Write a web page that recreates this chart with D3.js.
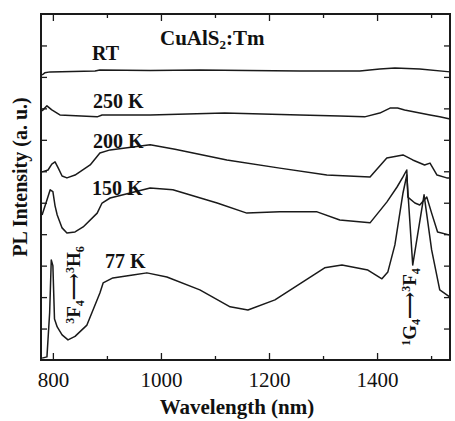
<!DOCTYPE html>
<html lang="en">
<head>
<meta charset="UTF-8">
<title>CuAlS2:Tm PL</title>
<script src="https://cdn.jsdelivr.net/npm/d3@7"></script>
<style>
  html, body { margin: 0; padding: 0; background: #fff; overflow: hidden; }
  svg { display: block; }
  svg text { font-family: "Liberation Serif", "DejaVu Serif", serif; fill: #111; }
</style>
</head>
<body>
<div class="marco"></div>
<script>
// wavelength (nm), intensity (a.u., offset per curve)
var curveRT = [[780,9.06],[785,9.13],[795,9.16],[878,9.19],[887,9.22],[980,9.2],[1072,9.22],[1160,9.2],[1257,9.19],[1368,9.19],[1405,9.25],[1433,9.28],[1479,9.25],[1535,9.16]];
var curve250 = [[780,7.92],[789,8.08],[798,7.95],[813,7.79],[882,7.73],[891,7.79],[980,7.79],[1118,7.85],[1257,7.79],[1331,7.76],[1377,7.73],[1405,7.85],[1424,8.01],[1438,8.01],[1451,7.95],[1498,7.79],[1516,7.73],[1535,7.66]];
var curve200 = [[780,5.98],[791,6.04],[798,6.23],[804,6.30],[810,6.10],[817,5.85],[826,5.79],[841,5.88],[869,6.2],[887,6.58],[906,6.68],[948,6.77],[980,6.84],[1026,6.7],[1122,6.36],[1220,6.1],[1307,5.88],[1387,5.82],[1418,6.42],[1448,6.52],[1466,6.36],[1488,6.20],[1498,6.26],[1511,5.88],[1529,5.79],[1535,5.79]];
var curve150 = [[780,4.61],[789,5.09],[795,5.41],[800,5.35],[804,4.9],[808,4.61],[817,4.20],[826,4.04],[841,4.07],[856,4.23],[882,4.67],[891,4.99],[906,5.15],[943,5.31],[980,5.47],[1022,5.41],[1104,4.99],[1159,4.67],[1220,4.71],[1289,4.71],[1331,4.45],[1387,4.36],[1418,5.02],[1437,5.5],[1448,5.82],[1455,6.04],[1457,5.18],[1470,4.99],[1479,4.93],[1492,5.18],[1501,4.67],[1512,4.07],[1535,3.97]];
var curve77 = [[780,0.06],[789,0.1],[794,1.5],[797,3.18],[800,3.0],[803,1.3],[808,1.05],[817,0.8],[828,0.64],[841,0.75],[863,1.11],[887,2.13],[893,2.45],[911,2.61],[948,2.70],[974,2.77],[1011,2.64],[1072,2.23],[1128,1.69],[1161,1.59],[1211,1.91],[1303,2.93],[1335,3.02],[1383,2.86],[1409,2.58],[1420,2.80],[1433,3.66],[1448,5.31],[1455,5.88],[1466,3.02],[1487,5.25],[1501,3.50],[1516,2.23],[1535,2.00]];

var series = [curveRT, curve250, curve200, curve150, curve77];
var xMajor = [800, 1000, 1200, 1400],
    xMinor = [900, 1100, 1300, 1500],
    yTicks = [1, 2, 3, 4, 5, 6, 7, 8, 9, 10];

var width = 455, height = 421,
    margin = { top: 14, right: 5, bottom: 61, left: 41 },
    innerWidth = width - margin.left - margin.right,
    innerHeight = height - margin.top - margin.bottom,
    ink = "#1a1a1a";

var svg = d3.select(".marco").append("svg")
    .attr("width", width)
    .attr("height", height);

var g = svg.append("g")
    .attr("transform", `translate(${margin.left}, ${margin.top})`);

var x = d3.scaleLinear().domain([778, 1535]).range([0, innerWidth]),
    y = d3.scaleLinear().domain([0, 11]).range([innerHeight, 0]);

// ejes (ticks hacia dentro)
var bottom = g.append("g")
    .attr("transform", `translate(0, ${innerHeight})`)
    .call(d3.axisBottom(x).tickValues(xMajor).tickSizeInner(-7).tickSizeOuter(0).tickPadding(12).tickFormat(d3.format("d")));
g.append("g")
    .attr("transform", `translate(0, ${innerHeight})`)
    .call(d3.axisBottom(x).tickValues(xMinor).tickSizeInner(-4).tickSizeOuter(0).tickFormat(""));
g.append("g")
    .call(d3.axisTop(x).tickValues(xMajor).tickSizeInner(-7).tickSizeOuter(0).tickFormat(""));
g.append("g")
    .call(d3.axisTop(x).tickValues(xMinor).tickSizeInner(-4).tickSizeOuter(0).tickFormat(""));
g.append("g")
    .call(d3.axisLeft(y).tickValues(yTicks).tickSizeInner(-6).tickSizeOuter(0).tickFormat(""));
g.append("g")
    .attr("transform", `translate(${innerWidth}, 0)`)
    .call(d3.axisRight(y).tickValues(yTicks).tickSizeInner(-6).tickSizeOuter(0).tickFormat(""));

g.selectAll(".domain").remove();
g.selectAll(".tick line").attr("stroke", ink).attr("stroke-width", 1.3);
bottom.selectAll("text")
    .attr("font-size", 21)
    .attr("fill", "#111")
    .style("font-family", "'Liberation Serif', serif");

g.append("rect")
    .attr("width", innerWidth)
    .attr("height", innerHeight)
    .attr("fill", "none")
    .attr("stroke", ink)
    .attr("stroke-width", 2);

// curvas
var line = d3.line().x(d => x(d[0])).y(d => y(d[1]));
g.selectAll("path.curva")
    .data(series)
    .enter().append("path")
    .attr("class", "curva")
    .attr("d", line)
    .attr("fill", "none")
    .attr("stroke", ink)
    .attr("stroke-width", 1.5)
    .attr("stroke-linejoin", "round");

// etiquetas
var etiquetas = [
    { t: "RT", x: 92, y: 60 },
    { t: "250 K", x: 93, y: 108 },
    { t: "200 K", x: 93, y: 148 },
    { t: "150 K", x: 92, y: 195 },
    { t: "77 K", x: 105, y: 268 }
];
svg.selectAll("text.temp")
    .data(etiquetas)
    .enter().append("text")
    .attr("class", "temp")
    .attr("x", d => d.x)
    .attr("y", d => d.y)
    .attr("font-size", 20)
    .attr("font-weight", "bold")
    .text(d => d.t);

var titulo = svg.append("text")
    .attr("x", 160).attr("y", 45)
    .attr("font-size", 21)
    .attr("font-weight", "bold");
titulo.append("tspan").text("CuAlS");
titulo.append("tspan").attr("font-size", 13).attr("dy", 4).text("2");
titulo.append("tspan").attr("dy", -4).text(":Tm");

function rotada(cx, cy, partes) {
    var t = svg.append("text")
        .attr("transform", `translate(${cx}, ${cy}) rotate(-90)`)
        .attr("text-anchor", "middle")
        .attr("font-size", 19)
        .attr("font-weight", "bold");
    partes.forEach(p => {
        t.append("tspan")
            .attr("font-size", p.s || 19)
            .attr("dy", p.dy || 0)
            .text(p.t);
    });
}
rotada(80, 285, [{ t: "3", s: 12, dy: -6 }, { t: "F", dy: 6 }, { t: "4", s: 12, dy: 4 }, { t: "\u27F6", dy: -4 }, { t: "3", s: 12, dy: -6 }, { t: "H", dy: 6 }, { t: "6", s: 12, dy: 4 }]);
rotada(416, 307, [{ t: "1", s: 12, dy: -6 }, { t: "G", dy: 6 }, { t: "4", s: 12, dy: 4 }, { t: "\u27F6", dy: -4 }, { t: "3", s: 12, dy: -6 }, { t: "F", dy: 6 }, { t: "4", s: 12, dy: 4 }]);

svg.append("text")
    .attr("transform", `translate(27, 177) rotate(-90)`)
    .attr("text-anchor", "middle")
    .attr("font-size", 20)
    .attr("font-weight", "bold")
    .text("PL Intensity (a. u.)");

svg.append("text")
    .attr("x", 237).attr("y", 414)
    .attr("text-anchor", "middle")
    .attr("font-size", 21)
    .attr("font-weight", "bold")
    .text("Wavelength (nm)");
</script>
</body>
</html>
